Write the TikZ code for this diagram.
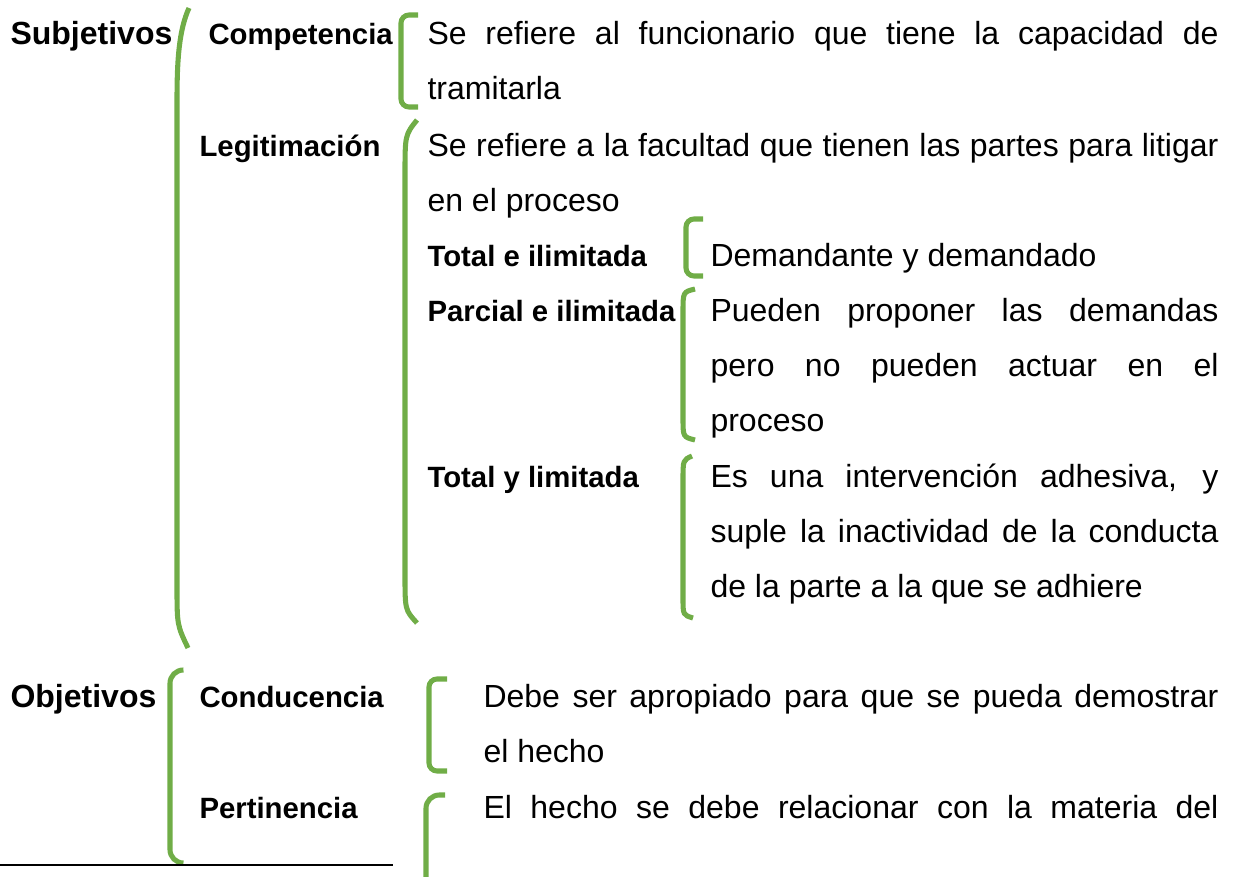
\documentclass[tikz,border=0pt]{standalone}
\usepackage{fontspec}
\setmainfont{Liberation Sans}
\definecolor{brkgreen}{HTML}{70AD47}
\tikzset{
  head/.style={anchor=base west,inner sep=0,font=\fontsize{12}{14}\selectfont\bfseries},
  lbl/.style={anchor=base west,inner sep=0,font=\fontsize{11}{13}\selectfont\bfseries},
  txt/.style={anchor=base west,inner sep=0,align=justify,font=\fontsize{12}{20.625}\selectfont},
  brk/.style={draw=brkgreen,line width=1.9pt},
  sqbrk/.style={brk,rounded corners=3pt}
}
\begin{document}
\begin{tikzpicture}[x=0.375pt,y=-0.375pt]
\useasboundingbox (0,0) rectangle (1235,876);
		\begin{scope}
		\node[head] (subj) at (10,45) {Subjetivos};
		\node[lbl] (comp) at (208,45) {Competencia};
		\node[txt,text width=296.6pt] (compt) at (427,45)
			{Se refiere al funcionario que tiene la capacidad de\linebreak tramitarla};
		\node[lbl] (legit) at (199,157) {Legitimación};
		\node[txt,text width=296.6pt] (legitt) at (427,157)
			{Se refiere a la facultad que tienen las partes para litigar\linebreak en el proceso};
		\node[lbl] (totil) at (427,267) {Total e ilimitada};
		\node[txt] (totilt) at (710,267) {Demandante y demandado};
		\node[lbl] (parcil) at (427,322) {Parcial e ilimitada};
		\node[txt,text width=190.5pt] (parcilt) at (710,322)
			{Pueden proponer las demandas\linebreak pero no pueden actuar en el\linebreak proceso};
		\node[lbl] (totlim) at (427,487) {Total y limitada};
		\node[txt,text width=190.5pt] (totlimt) at (710,487)
			{Es una intervención adhesiva, y\linebreak suple la inactividad de la conducta\linebreak de la parte a la que se adhiere};
		\end{scope}
		\begin{scope}
		\node[head] (obj) at (10,707) {Objetivos};
		\node[lbl] (cond) at (199,707) {Conducencia};
		\node[txt,text width=275.6pt] (condt) at (483,707)
			{Debe ser apropiado para que se pueda demostrar\linebreak el hecho};
		\node[lbl] (pert) at (199,818) {Pertinencia};
		\node[txt,text width=275.6pt] (pertt) at (483,818)
			{\makebox[275.6pt][s]{El hecho se debe relacionar con la materia del}};
		\end{scope}
		\draw[brk] (189,8) .. controls (179,30) and (177,60) .. (177,100) -- (177,585) .. controls (177,625) .. (188,648);
		\draw[sqbrk] (418,15) -- (401,15) -- (401,107) -- (418,107);
		\draw[brk] (417,120) .. controls (405,135) .. (405,175) -- (405,575) .. controls (405,610) .. (417,623);
		\draw[sqbrk] (703,219) -- (686,219) -- (686,276) -- (703,276);
		\draw[brk] (695,289) .. controls (683,292) .. (683,312) -- (683,418) .. controls (683,437) .. (695,440);
		\draw[brk] (692,456) .. controls (683,460) .. (683,480) -- (683,598) .. controls (683,615) .. (693,618);
		\draw[brk,rounded corners=5pt] (183,670) -- (170,670) -- (170,863) -- (183,863);
		\draw[sqbrk] (447,679) -- (429,679) -- (429,771) -- (447,771);
		\draw[brk,rounded corners=5pt] (445,795) -- (426,795) -- (426,880);
		\draw[line width=0.6pt] (0,865) -- (393,865);
\end{tikzpicture}
\end{document}
